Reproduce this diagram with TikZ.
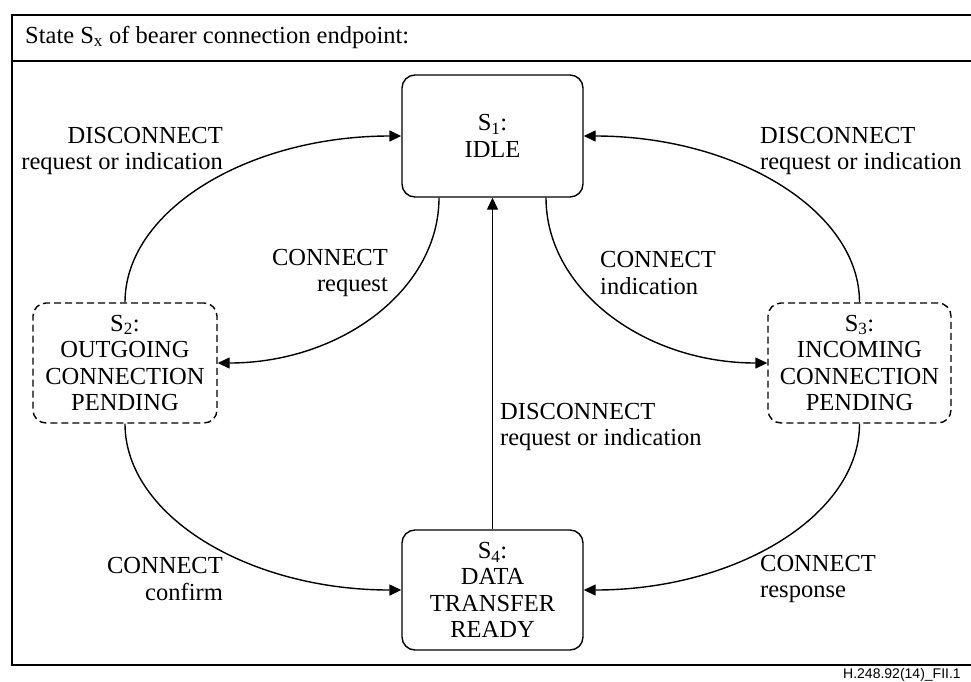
\documentclass[tikz,border=0pt]{standalone}
\usepackage{fontspec}
\setmainfont{Liberation Serif}
\newfontfamily\figsans{Liberation Sans}
\usetikzlibrary{arrows.meta,calc}

\tikzset{
  statebox/.style={draw, line width=1.4pt, rounded corners=13pt, align=center,
    inner sep=0pt, font=\fontsize{24.5}{26.5}\selectfont},
  pendbox/.style={statebox, dash pattern=on 7pt off 4pt},
  trans/.style={line width=1.4pt, -{Triangle[length=12pt,width=11pt]}},
  lbl/.style={inner sep=0pt, font=\fontsize{24.5}{26.5}\selectfont},
  lblr/.style={lbl, anchor=east, align=right},
  lbll/.style={lbl, anchor=west, align=left},
  frameline/.style={line width=1.6pt}
}

\begin{document}
\begin{tikzpicture}[x=1pt, y=-1pt]
\useasboundingbox (0,0) rectangle (971,681);

% outer frame with title row
\coordinate (ftl) at (12,15);
\coordinate (fbl) at (12,665);
\draw[frameline] (990,15) -- (ftl) -- (fbl) -- (990,665);
\draw[frameline] (12,61) -- (990,61);
\node[lbl, anchor=west] (title) at (25,37)
  {State S\textsubscript{x} of bearer connection endpoint:};

% states
\node[statebox, minimum width=181pt, minimum height=122pt] (s1) at (492.5,136)
  {S\textsubscript{1}:\\IDLE};
\node[pendbox, minimum width=184pt, minimum height=120pt] (s2) at (125,363)
  {S\textsubscript{2}:\\OUTGOING\\CONNECTION\\PENDING};
\node[pendbox, minimum width=183pt, minimum height=120pt] (s3) at (859.5,363)
  {S\textsubscript{3}:\\INCOMING\\CONNECTION\\PENDING};
\node[statebox, minimum width=181pt, minimum height=120pt] (s4) at (492.5,590)
  {S\textsubscript{4}:\\DATA\\TRANSFER\\READY};

% transitions
\draw[trans] (s2.north) .. controls +(0,-92) and +(-153,0) .. (s1.west);
\draw[trans] ([xshift=-53.5pt]s1.south) .. controls +(0,92) and +(123,0) .. (s2.east);
\draw[trans] ([xshift=53.5pt]s1.south) .. controls +(0,92) and +(-123,0) .. (s3.west);
\draw[trans] (s3.north) .. controls +(0,-92) and +(152,0) .. (s1.east);
\draw[trans] (s2.south) .. controls +(0,92) and +(-153,0) .. (s4.west);
\draw[trans] (s3.south) .. controls +(0,92) and +(152,0) .. (s4.east);
\draw[trans] (s4.north) -- (s1.south);

% transition labels
\node[lblr] (l21) at (223,151) {DISCONNECT\\request or indication};
\node[lbll] (l31) at (760,151) {DISCONNECT\\request or indication};
\node[lblr] (l12) at (388,273) {CONNECT\\request};
\node[lbll] (l13) at (600,273) {CONNECT\\indication};
\node[lbll] (l41) at (500,427) {DISCONNECT\\request or indication};
\node[lblr] (l24) at (223,579) {CONNECT\\confirm};
\node[lbll] (l34) at (760,579) {CONNECT\\response};

% figure reference
\node[inner sep=0pt, anchor=west, font=\figsans\fontsize{14}{16}\selectfont] (ref)
  at (843,675) {H.248.92(14)\_FII.1};
\end{tikzpicture}
\end{document}
